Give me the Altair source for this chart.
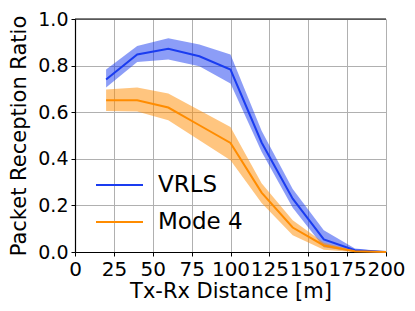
import altair as alt
import pandas as pd

distance = [20, 40, 60, 80, 100, 120, 140, 160, 180, 200]
vrls = [0.740, 0.848, 0.872, 0.840, 0.783, 0.470, 0.229, 0.054, 0.008, 0.000]
vrls_lo = [0.706, 0.815, 0.826, 0.797, 0.723, 0.430, 0.190, 0.020, 0.000, 0.000]
vrls_hi = [0.783, 0.884, 0.917, 0.891, 0.848, 0.520, 0.270, 0.093, 0.015, 0.002]
mode4 = [0.651, 0.651, 0.620, 0.544, 0.468, 0.255, 0.105, 0.028, 0.003, 0.000]
mode4_lo = [0.605, 0.603, 0.565, 0.480, 0.394, 0.210, 0.072, 0.010, 0.000, 0.000]
mode4_hi = [0.697, 0.706, 0.680, 0.608, 0.537, 0.295, 0.136, 0.040, 0.006, 0.001]

series = ["VRLS", "Mode 4"]
colors = ["#1a3cf0", "#ff8c00"]
x_ticks = [0, 25, 50, 75, 100, 125, 150, 175, 200]
y_ticks = [0.0, 0.2, 0.4, 0.6, 0.8, 1.0]

rows = []
for name, mid, lo, hi in [("VRLS", vrls, vrls_lo, vrls_hi), ("Mode 4", mode4, mode4_lo, mode4_hi)]:
    for d, m, l, h in zip(distance, mid, lo, hi):
        rows.append({"distance": d, "prr": m, "lo": l, "hi": h, "method": name})
df = pd.DataFrame(rows)

FONT = "DejaVu Sans"

x_enc = alt.X(
    "distance:Q",
    scale=alt.Scale(domain=[0, 200], nice=False, zero=False),
    axis=alt.Axis(
        values=x_ticks,
        title="Tx-Rx Distance [m]",
        labelOverlap=False,
        labelFlush=False,
        labelFontSize=20,
        titleY=45.5,
        titleBaseline="alphabetic",
    ),
)
y_enc = alt.Y(
    "prr:Q",
    scale=alt.Scale(domain=[0, 1], nice=False),
    axis=alt.Axis(
        values=y_ticks,
        format=".1f",
        labelFontSize=19,
        title="Packet Reception Ratio",
        titleX=-50,
        titleY=116.5,
        titleAngle=270,
        titleBaseline="alphabetic",
        titleAlign="center",
    ),
)

bands = alt.Chart(df).mark_area(opacity=0.5).encode(
    x=x_enc,
    y=alt.Y("lo:Q"),
    y2="hi:Q",
    color=alt.Color("method:N", scale=alt.Scale(domain=series, range=colors), legend=None),
    detail="method:N",
)

lines = alt.Chart(df).mark_line(strokeWidth=2).encode(
    x=x_enc,
    y=y_enc,
    color=alt.Color(
        "method:N",
        scale=alt.Scale(domain=series, range=colors),
        sort=series,
        legend=alt.Legend(
            title=None,
            orient="none",
            legendX=20,
            legendY=141.5,
            symbolType="stroke",
            symbolSize=2209,
            symbolStrokeWidth=2,
            labelFontSize=23,
            labelFont=FONT,
            labelColor="black",
            labelOffset=14,
            rowPadding=-16,
            padding=0,
        ),
    ),
    order=alt.Order("distance:Q"),
)

top = alt.Chart(pd.DataFrame({"v": [1.0]})).mark_rule(color="black", strokeWidth=1.2).encode(
    y=alt.Y("v:Q"),
)

chart = (
    alt.layer(bands, lines, top)
    .resolve_scale(color="independent")
    .resolve_legend(color="independent")
    .properties(
        width=311,
        height=233,
        autosize=alt.AutoSizeParams(type="none"),
        padding={"left": 67, "top": 11, "right": 21, "bottom": 51},
    )
    .configure_view(stroke=None)
    .configure_axis(
        labelFont=FONT,
        titleFont=FONT,
        titleFontSize=21,
        titleFontWeight="normal",
        labelColor="black",
        titleColor="black",
        domainColor="black",
        domainWidth=1.2,
        tickColor="black",
        tickSize=4,
        labelPadding=3,
        gridColor="#b0b0b0",
        gridWidth=1,
        gridOpacity=1,
    )
)

chart.save("out.html", embed_options={"renderer": "svg", "actions": False})
